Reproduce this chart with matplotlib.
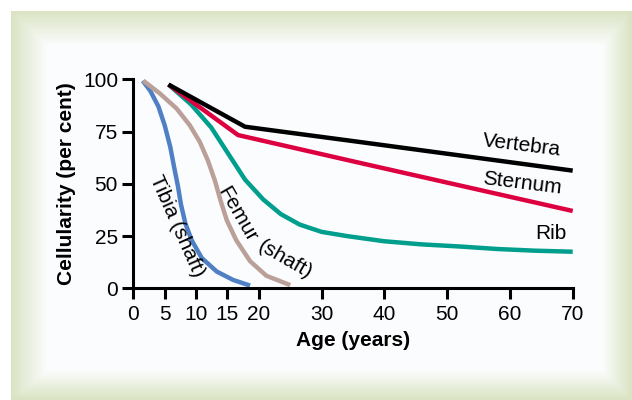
import numpy as np
import matplotlib
matplotlib.use("Agg")
import matplotlib.pyplot as plt

plt.rcParams['font.family'] = ['Liberation Sans', 'DejaVu Sans']

# (age, cellularity)
vert_age = [5.6, 17.8, 36.1, 70]
vert_val = [97.5, 77.3, 70.0, 56.3]
stern_age = [5.6, 16.7, 36.1, 70]
stern_val = [97.5, 73.3, 60.0, 37.0]
rib_age = [5.6, 9.2, 12.4, 15.1, 17.8, 20.7, 23.5, 26.5, 30, 34, 40, 46, 52, 58, 64, 70]
rib_val = [97.5, 88.0, 77.0, 64.5, 52.0, 42.5, 35.5, 30.5, 27.0, 25.0, 22.5, 21.0, 20.0, 18.8, 18.0, 17.5]
tibia_age = [1.5, 2.7, 4.0, 5.0, 5.9, 6.5, 7.1, 7.6, 8.3, 9.3, 10.9, 13.3, 15.9, 18.6]
tibia_val = [99.3, 94.5, 87.0, 78.0, 67.5, 58.0, 49.0, 40.0, 31.0, 23.0, 14.5, 8.0, 4.0, 1.3]
femur_age = [1.6, 4.2, 6.9, 9.0, 10.6, 11.9, 13.0, 13.9, 14.9, 16.4, 18.6, 21.2, 25.0]
femur_val = [99.3, 93.3, 86.0, 78.0, 70.0, 61.0, 51.5, 42.0, 32.5, 23.0, 13.0, 6.0, 1.5]

xticks = [0, 5, 10, 15, 20, 30, 40, 50, 60, 70]
yticks = [0, 25, 50, 75, 100]

fig = plt.figure(figsize=(6.32, 4.0), dpi=100)

# beveled green frame behind everything
bg = fig.add_axes([0, 0, 1, 1])
W, H = 632, 400
xx, yy = np.meshgrid(np.arange(W) + 0.5, np.arange(H) + 0.5)
u = np.maximum.reduce([(48 - xx) / 37.0, (xx - 602) / 30.0, (46 - yy) / 35.0, (yy - 370) / 30.0])
u = np.clip(u, 0, 1)
green = np.array([0.85, 0.89, 0.76])
inner = np.array([0.988, 0.992, 0.996])
img = inner[None, None, :] * (1 - u[..., None]) + green[None, None, :] * u[..., None]
img[(xx < 11) | (yy < 11)] = 1.0
bg.imshow(img, extent=[0, W, H, 0], aspect='auto', interpolation='bilinear')
bg.set_xlim(0, W)
bg.set_ylim(H, 0)
bg.axis('off')

ax = fig.add_axes([133.3 / W, 1 - 288.3 / H, (572.7 - 133.3) / W, (288.3 - 79.3) / H])
ax.patch.set_alpha(0)
lw = 3.2
kw = dict(lw=lw, clip_on=False, solid_capstyle='butt', solid_joinstyle='round')
ax.plot(tibia_age, tibia_val, color='#4f7fc4', **kw)
ax.plot(femur_age, femur_val, color='#bba09a', **kw)
ax.plot(rib_age, rib_val, color='#009e8c', **kw)
ax.plot(stern_age, stern_val, color='#dc0040', **kw)
ax.plot(vert_age, vert_val, color='black', **kw)

ax.set_xlim(0, 70)
ax.set_ylim(0, 100)
ax.set_xticks(xticks)
ax.set_yticks(yticks)
for s in ['top', 'right']:
    ax.spines[s].set_visible(False)
for s in ['left', 'bottom']:
    ax.spines[s].set_linewidth(2.2)
ax.tick_params(length=8, width=2.2, labelsize=15, pad=3)
ax.tick_params(axis='x', pad=4)
ax.set_xlabel('Age (years)', fontsize=15, fontweight='bold', labelpad=5)
ax.set_ylabel('Cellularity (per cent)', fontsize=15, fontweight='bold', labelpad=5)

fs = 15
ax.text(61.8, 68.6, 'Vertebra', fontsize=fs, rotation=-7, ha='center', va='center')
ax.text(62.0, 50.3, 'Sternum', fontsize=fs, rotation=-7, ha='center', va='center')
ax.text(66.5, 26.3, 'Rib', fontsize=fs, ha='center', va='center')
ax.text(7.0, 30.0, 'Tibia (shaft)', fontsize=fs, rotation=-66, ha='center', va='center')
ax.text(16.6, 35.5, 'Femur', fontsize=fs, rotation=-60, ha='center', va='center')
ax.text(24.2, 13.5, '(shaft)', fontsize=fs, rotation=-30, ha='center', va='center')

fig.savefig('out.png', dpi=100)
